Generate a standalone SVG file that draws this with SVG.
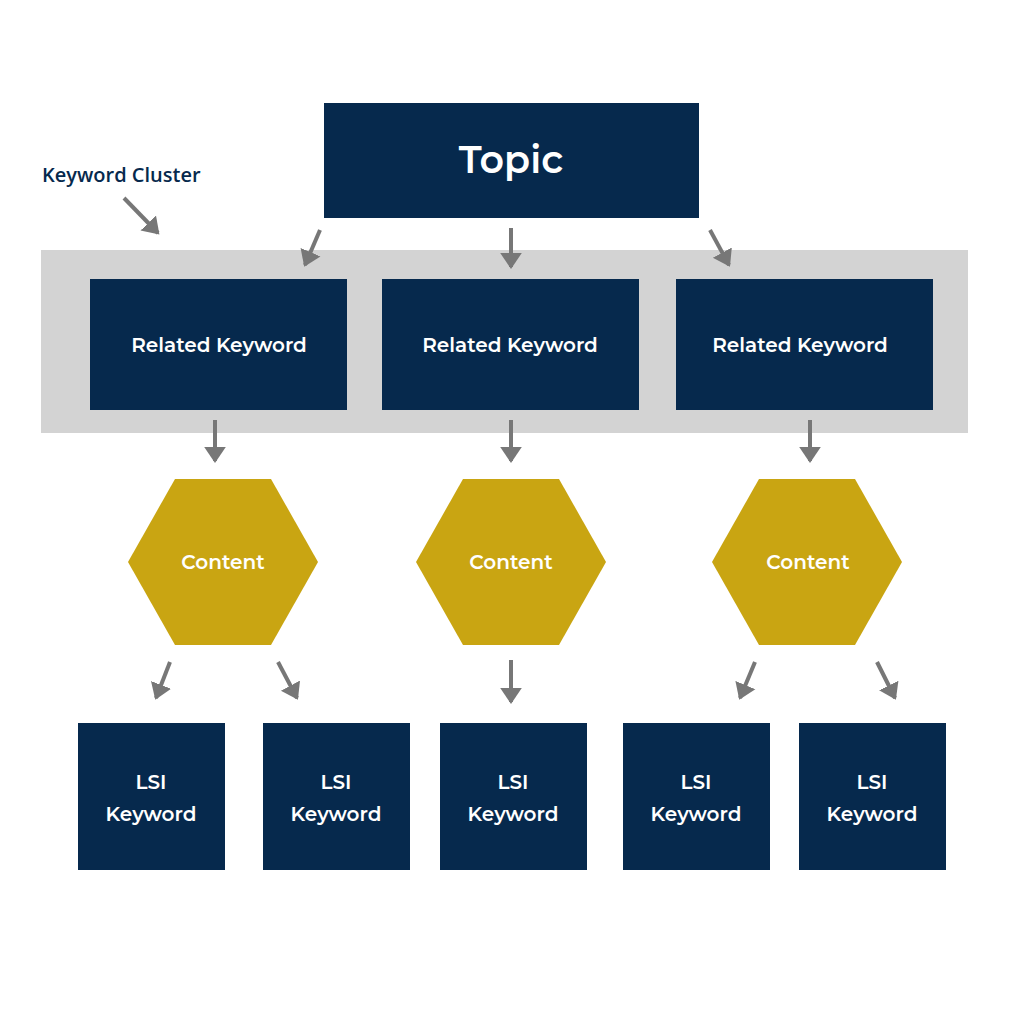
<svg xmlns="http://www.w3.org/2000/svg" width="1024" height="1024" viewBox="0 0 1024 1024">
<style>
.box{fill:#06294d}
.hex{fill:#c9a512}
.t{font-family:"Montserrat","Open Sans","Liberation Sans",sans-serif;font-weight:600;fill:#fff;text-anchor:middle}
.c line{stroke:#777;stroke-width:4;marker-end:url(#a)}
</style>
<defs><marker id="a" markerWidth="6" markerHeight="6" refX="3.5" refY="3" orient="auto" markerUnits="strokeWidth"><path d="M0,0.3 L4,3 L0,5.7 Z" fill="#777"/></marker></defs>
<rect width="1024" height="1024" fill="#fff"/>
<g id="cluster"><rect x="41" y="250" width="927" height="183" fill="#d3d3d3"/><text x="42" y="182" font-family="Open Sans,Liberation Sans,sans-serif" font-weight="600" font-size="20" fill="#06294d">Keyword Cluster</text></g>
<g id="topic"><rect class="box" x="324" y="103" width="375" height="115"/><text class="t" x="511" y="173" font-size="38">Topic</text></g>
<g id="rk1"><rect class="box" x="90" y="279" width="257" height="131"/><text class="t" x="219" y="352" font-size="20">Related Keyword</text></g>
<g id="rk2"><rect class="box" x="382" y="279" width="257" height="131"/><text class="t" x="510" y="352" font-size="20">Related Keyword</text></g>
<g id="rk3"><rect class="box" x="676" y="279" width="257" height="131"/><text class="t" x="800" y="352" font-size="20">Related Keyword</text></g>
<g id="c1"><polygon class="hex" points="128,562 175,479 271,479 318,562 271,645 175,645"/><text class="t" x="223" y="569" font-size="20">Content</text></g>
<g id="c2"><polygon class="hex" points="416,562 463,479 559,479 606,562 559,645 463,645"/><text class="t" x="511" y="569" font-size="20">Content</text></g>
<g id="c3"><polygon class="hex" points="712,562 759,479 855,479 902,562 855,645 759,645"/><text class="t" x="808" y="569" font-size="20">Content</text></g>
<g id="l1"><rect class="box" x="78" y="723" width="147" height="147"/><text class="t" x="151" y="789" font-size="20">LSI</text><text class="t" x="151" y="821" font-size="20">Keyword</text></g>
<g id="l2"><rect class="box" x="263" y="723" width="147" height="147"/><text class="t" x="336" y="789" font-size="20">LSI</text><text class="t" x="336" y="821" font-size="20">Keyword</text></g>
<g id="l3"><rect class="box" x="440" y="723" width="147" height="147"/><text class="t" x="513" y="789" font-size="20">LSI</text><text class="t" x="513" y="821" font-size="20">Keyword</text></g>
<g id="l4"><rect class="box" x="623" y="723" width="147" height="147"/><text class="t" x="696" y="789" font-size="20">LSI</text><text class="t" x="696" y="821" font-size="20">Keyword</text></g>
<g id="l5"><rect class="box" x="799" y="723" width="147" height="147"/><text class="t" x="872" y="789" font-size="20">LSI</text><text class="t" x="872" y="821" font-size="20">Keyword</text></g>
<g class="c" id="connectors">
<line x1="124" y1="198" x2="158" y2="233"/>
<line x1="320" y1="230" x2="305" y2="265"/>
<line x1="511" y1="228" x2="511" y2="267"/>
<line x1="710" y1="230" x2="729" y2="265"/>
<line x1="215" y1="420" x2="215" y2="461"/>
<line x1="511" y1="420" x2="511" y2="461"/>
<line x1="810" y1="420" x2="810" y2="461"/>
<line x1="170" y1="662" x2="156" y2="698"/>
<line x1="278" y1="662" x2="297" y2="698"/>
<line x1="511" y1="660" x2="511" y2="702"/>
<line x1="755" y1="662" x2="740" y2="698"/>
<line x1="877" y1="662" x2="895" y2="698"/>
</g>
</svg>
